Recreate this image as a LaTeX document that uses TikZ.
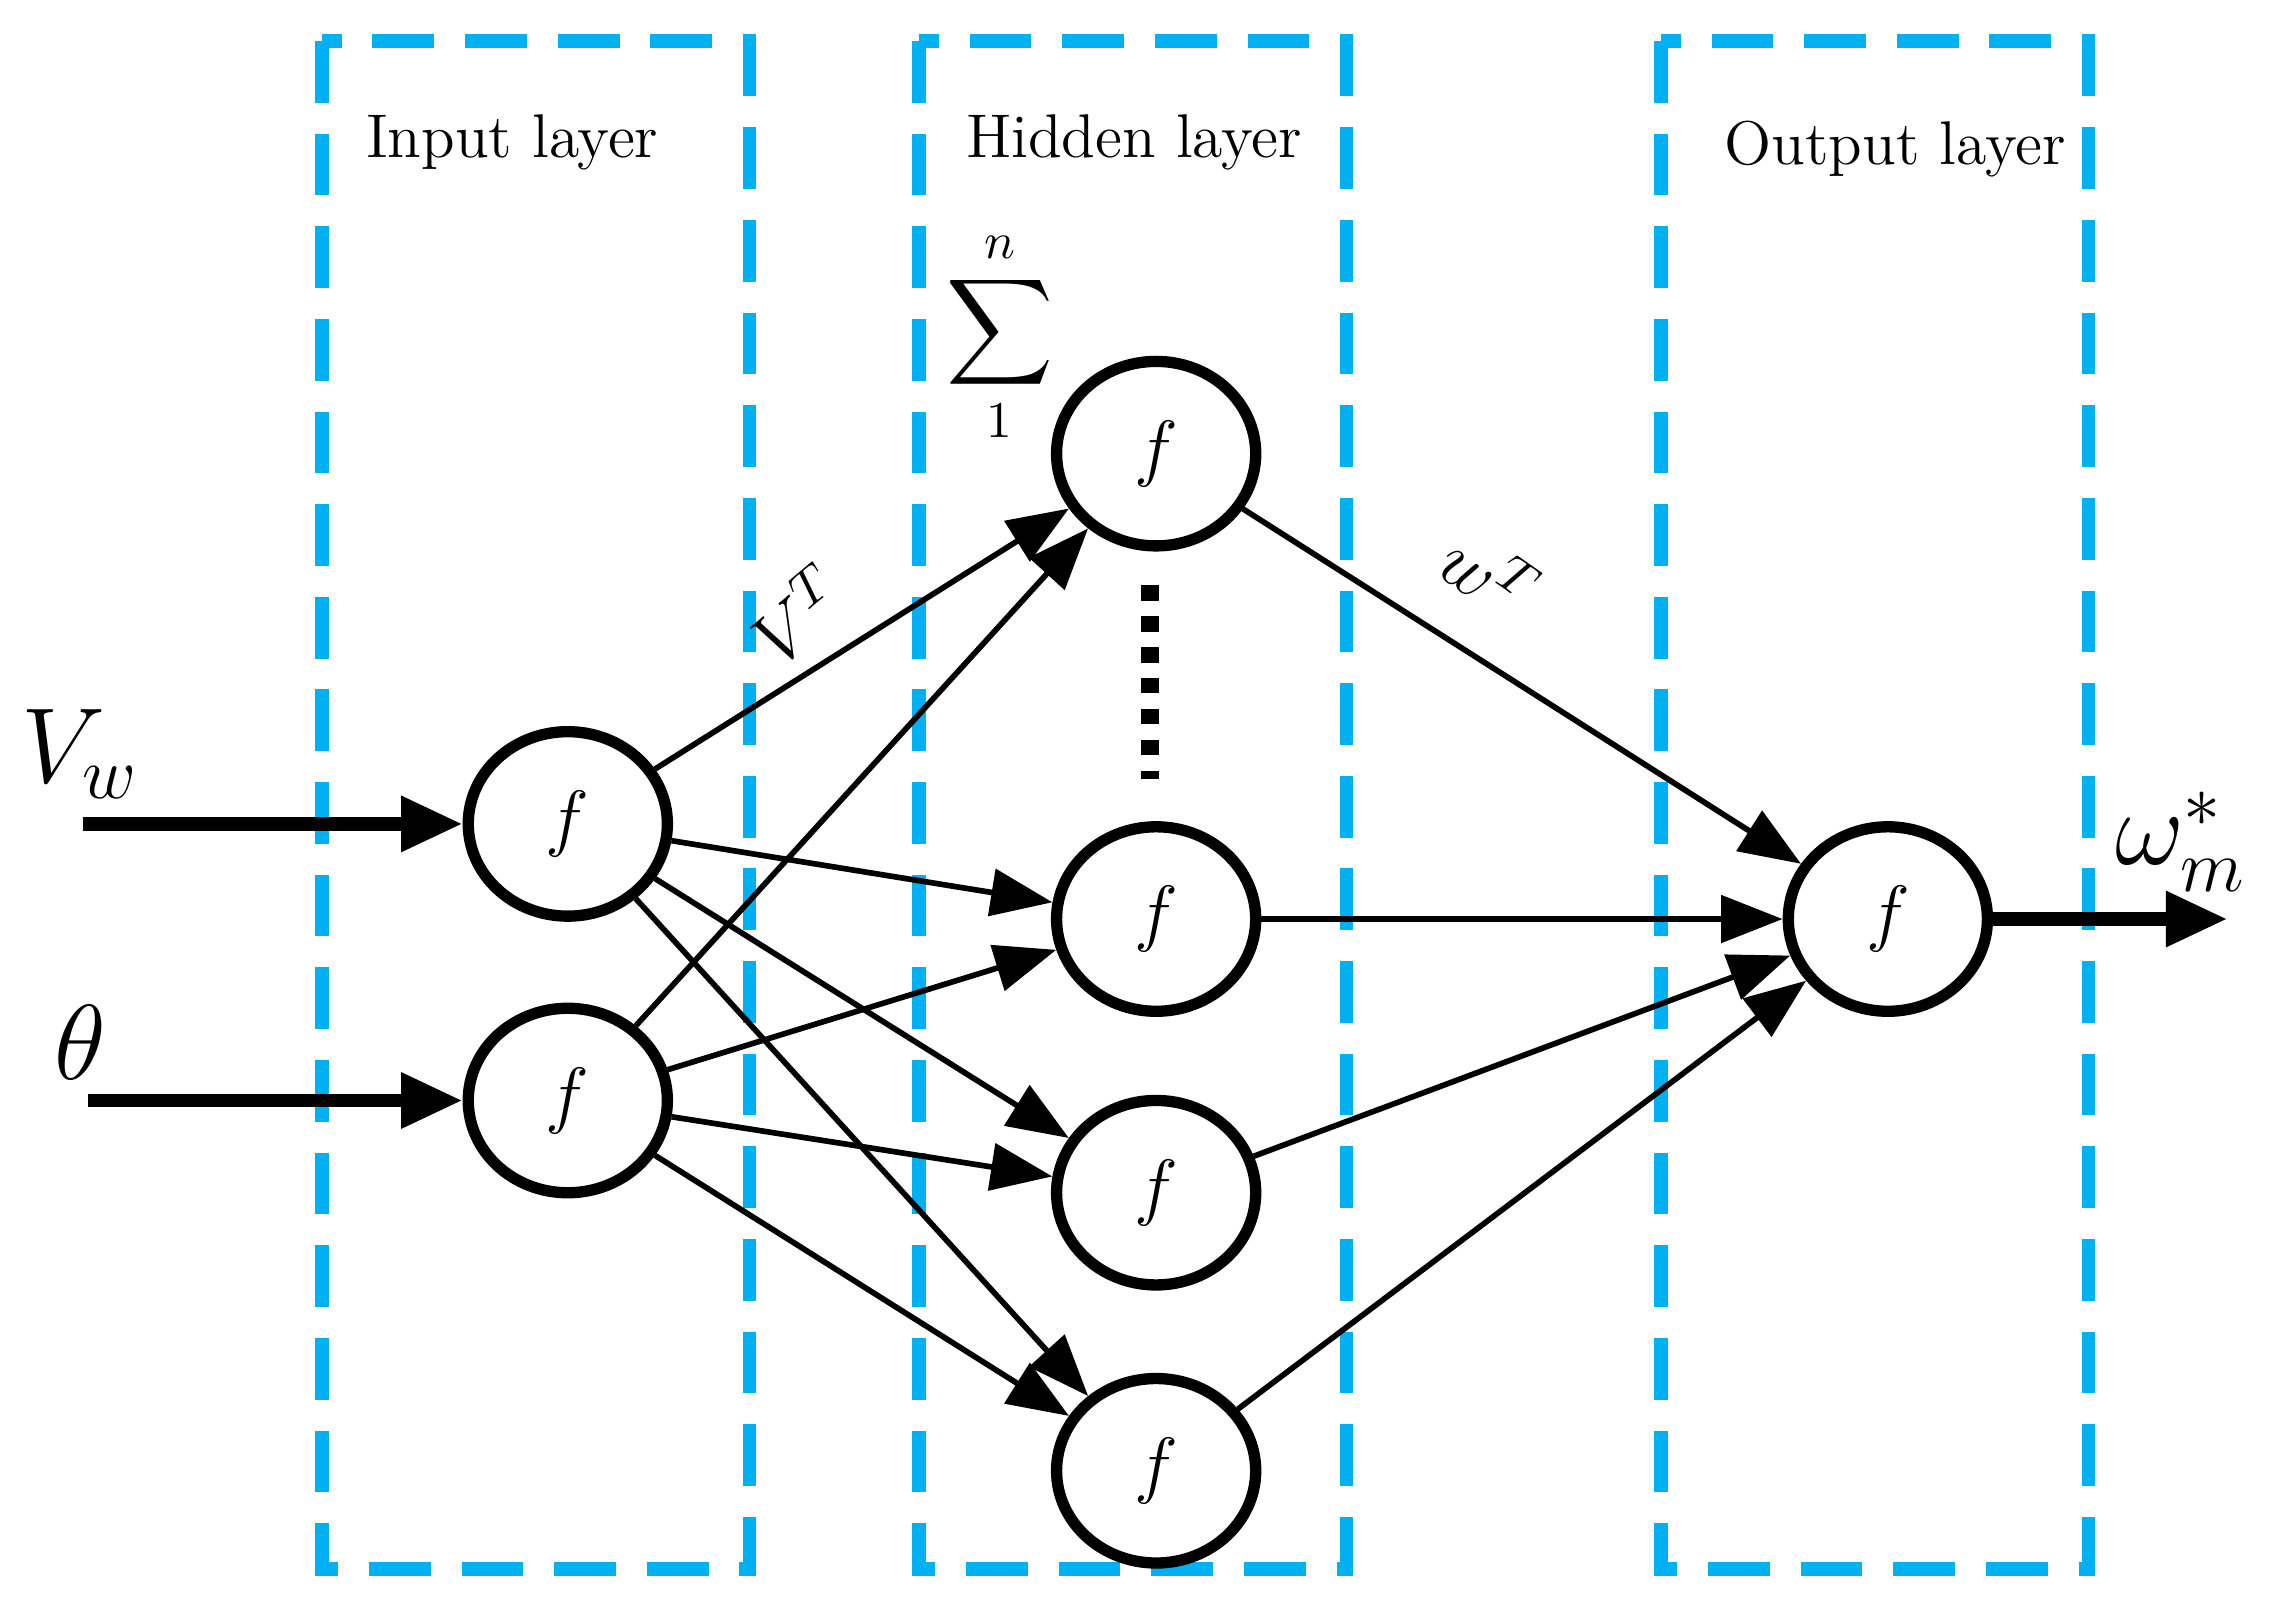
\documentclass[tikz,border=0pt]{standalone}
\usepackage{amsmath}
\usetikzlibrary{shapes.geometric,arrows.meta}
\definecolor{cy}{RGB}{0,176,240}
\begin{document}
\begin{tikzpicture}[x=0.01cm,y=-0.01cm,
  neu/.style={ellipse,draw,line width=2.2pt,minimum width=1.36cm,minimum height=1.26cm,inner sep=0pt,font=\Large},
  lay/.style={draw=cy,line width=2.6pt,dash pattern=on 12pt off 6pt},
  con/.style={line width=1.1pt,-{Triangle[length=0.42cm,width=0.32cm]}},
  inp/.style={line width=2.6pt,-{Triangle[length=0.42cm,width=0.36cm]}}]
\useasboundingbox (0,0) rectangle (1560,1095);
\draw[lay] (220,28) rectangle (512,1072);
\draw[lay] (628,28) rectangle (920,1072);
\draw[lay] (1135,28) rectangle (1427,1072);
\node[font=\large] (l1) at (350,97) {Input layer};
\node[font=\large] (l2) at (775,97) {Hidden layer};
\node[font=\large] (l3) at (1295,102) {Output layer};
\node[neu] (i1) at (388,563) {$f$};
\node[neu] (i2) at (388,752) {$f$};
\node[neu] (h1) at (790,310) {$f$};
\node[neu] (h2) at (790,628) {$f$};
\node[neu] (h3) at (790,815) {$f$};
\node[neu] (h4) at (790,1005) {$f$};
\node[neu] (o) at (1290,628) {$f$};
\coordinate (a) at (786,400); \coordinate (b) at (786,532);
\draw[line width=3.5pt,dash pattern=on 3pt off 3pt] (a) -- (b);
\node[font=\Large] (sum) at (683,230) {$\displaystyle\sum_{1}^{n}$};
\node[font=\huge] (vw) at (55,515) {$V_w$};
\node[font=\huge] (th) at (55,712) {$\theta$};
\node[font=\huge] (om) at (1490,575) {$\omega_m^{*}$};
\coordinate (vs) at (57,563); \coordinate (ts) at (60,752); \coordinate (oe) at (1522,628);
\draw[inp] (vs) -- (i1);
\draw[inp] (ts) -- (i2);
\draw[inp] (o) -- (oe);
\foreach \i in {i1,i2}{\foreach \h in {h1,h2,h3,h4}{\draw[con] (\i) -- (\h);}}
\foreach \h in {h1,h2,h3,h4}{\draw[con] (\h) -- (o);}
\node[font=\Large,rotate=40] (vt) at (545,420) {$V^T$};
\node[font=\Large,rotate=-35] (wt) at (1018,392) {$w^T$};
\end{tikzpicture}
\end{document}
